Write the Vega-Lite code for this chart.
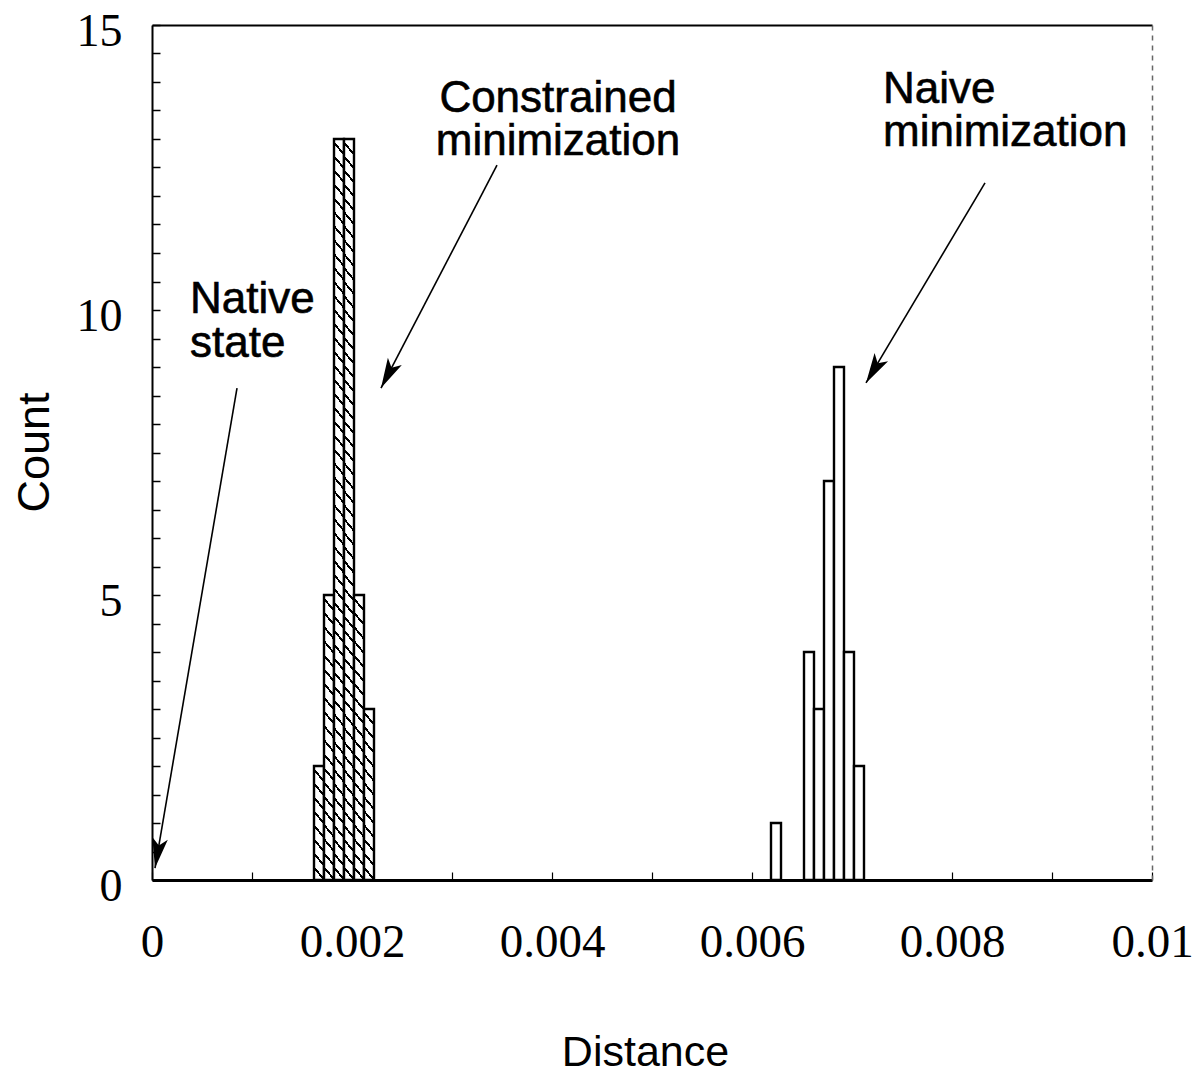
{
  "$schema": "https://vega.github.io/schema/vega-lite/v6.json",
  "width": 1000,
  "height": 855,
  "autosize": {"type": "none"},
  "padding": {"left": 152, "top": 25, "right": 42, "bottom": 201},
  "background": "white",
  "config": {"view": {"stroke": null}, "font": "Liberation Sans"},
  "resolve": {"axis": {"x": "independent", "y": "independent"}},
  "layer": [
    {
      "data": {
        "values": [
          {"method": "Constrained", "bin_start": 0.00162, "bin_end": 0.00172, "count": 2},
          {"method": "Constrained", "bin_start": 0.00172, "bin_end": 0.00182, "count": 5},
          {"method": "Constrained", "bin_start": 0.00182, "bin_end": 0.00192, "count": 13},
          {"method": "Constrained", "bin_start": 0.00192, "bin_end": 0.00202, "count": 13},
          {"method": "Constrained", "bin_start": 0.00202, "bin_end": 0.00212, "count": 5},
          {"method": "Constrained", "bin_start": 0.00212, "bin_end": 0.00222, "count": 3},
          {"method": "Naive", "bin_start": 0.00619, "bin_end": 0.00629, "count": 1},
          {"method": "Naive", "bin_start": 0.00652, "bin_end": 0.00662, "count": 4},
          {"method": "Naive", "bin_start": 0.00662, "bin_end": 0.00672, "count": 3},
          {"method": "Naive", "bin_start": 0.00672, "bin_end": 0.00682, "count": 7},
          {"method": "Naive", "bin_start": 0.00682, "bin_end": 0.00692, "count": 9},
          {"method": "Naive", "bin_start": 0.00692, "bin_end": 0.00702, "count": 4},
          {"method": "Naive", "bin_start": 0.00702, "bin_end": 0.00712, "count": 2}
        ]
      },
      "mark": {"type": "bar", "stroke": "black", "strokeWidth": 2.4},
      "encoding": {
        "x": {
          "field": "bin_start",
          "type": "quantitative",
          "scale": {"domain": [0, 0.01], "nice": false, "zero": false},
          "axis": {
            "orient": "bottom",
            "title": "Distance",
            "titleFont": "Liberation Sans",
            "titleFontSize": 43,
            "titleFontWeight": "normal",
            "titleColor": "black",
            "titleX": 493,
            "titleY": 185,
            "titleAlign": "center",
            "titleBaseline": "alphabetic",
            "titleAngle": 0,
            "values": [0, 0.001, 0.002, 0.003, 0.004, 0.005, 0.006, 0.007, 0.008, 0.009, 0.01],
            "labelExpr": "round(datum.value * 1000) % 2 === 0 ? format(datum.value, '~g') : ''",
            "labelFont": "Liberation Serif",
            "labelFontSize": 47,
            "labelColor": "black",
            "labelPadding": 47,
            "labelFlush": false,
            "labelOverlap": false,
            "labelBound": false,
            "tickSize": -8,
            "tickColor": "black",
            "tickWidth": 1.2,
            "domainColor": "black",
            "domainWidth": 3,
            "grid": false
          }
        },
        "x2": {"field": "bin_end"},
        "y": {
          "field": "count",
          "type": "quantitative",
          "scale": {"domain": [0, 15], "nice": false},
          "axis": {
            "orient": "left",
            "title": "Count",
            "titleFont": "Liberation Sans",
            "titleFontSize": 45,
            "titleFontWeight": "normal",
            "titleColor": "black",
            "titleX": -104,
            "titleY": 427,
            "titleAlign": "center",
            "titleBaseline": "alphabetic",
            "titleAngle": -90,
            "values": [0, 0.5, 1, 1.5, 2, 2.5, 3, 3.5, 4, 4.5, 5, 5.5, 6, 6.5, 7, 7.5, 8, 8.5, 9, 9.5, 10, 10.5, 11, 11.5, 12, 12.5, 13, 13.5, 14, 14.5, 15],
            "labelExpr": "datum.value % 5 === 0 ? format(datum.value, 'd') : ''",
            "labelFont": "Liberation Serif",
            "labelFontSize": 46,
            "labelColor": "black",
            "labelPadding": 38,
            "labelOffset": 6,
            "labelFlush": false,
            "labelOverlap": false,
            "labelBound": false,
            "tickSize": -8,
            "tickColor": "black",
            "tickWidth": 1.5,
            "domainColor": "black",
            "domainWidth": 2,
            "grid": false
          }
        },
        "y2": {"datum": 0},
        "fill": {
          "condition": [
            {
              "test": "datum.method === 'Constrained' && datum.count === 2",
              "value": {
                "gradient": "linear", "x1": 1, "y1": 0, "x2": 0.88493, "y2": 1.09315,
                "stops": [
                  {"offset": 0, "color": "#000"}, {"offset": 0.0238, "color": "#000"}, {"offset": 0.0238, "color": "#fff"},
                  {"offset": 0.1111, "color": "#fff"}, {"offset": 0.1111, "color": "#000"}, {"offset": 0.1349, "color": "#000"}, {"offset": 0.1349, "color": "#fff"},
                  {"offset": 0.2222, "color": "#fff"}, {"offset": 0.2222, "color": "#000"}, {"offset": 0.2460, "color": "#000"}, {"offset": 0.2460, "color": "#fff"},
                  {"offset": 0.3333, "color": "#fff"}, {"offset": 0.3333, "color": "#000"}, {"offset": 0.3571, "color": "#000"}, {"offset": 0.3571, "color": "#fff"},
                  {"offset": 0.4444, "color": "#fff"}, {"offset": 0.4444, "color": "#000"}, {"offset": 0.4682, "color": "#000"}, {"offset": 0.4682, "color": "#fff"},
                  {"offset": 0.5556, "color": "#fff"}, {"offset": 0.5556, "color": "#000"}, {"offset": 0.5794, "color": "#000"}, {"offset": 0.5794, "color": "#fff"},
                  {"offset": 0.6667, "color": "#fff"}, {"offset": 0.6667, "color": "#000"}, {"offset": 0.6905, "color": "#000"}, {"offset": 0.6905, "color": "#fff"},
                  {"offset": 0.7778, "color": "#fff"}, {"offset": 0.7778, "color": "#000"}, {"offset": 0.8016, "color": "#000"}, {"offset": 0.8016, "color": "#fff"},
                  {"offset": 0.8889, "color": "#fff"}, {"offset": 0.8889, "color": "#000"}, {"offset": 0.9127, "color": "#000"}, {"offset": 0.9127, "color": "#fff"},
                  {"offset": 1, "color": "#fff"}
                ]
              }
            },
            {
              "test": "datum.method === 'Constrained' && datum.count === 3",
              "value": {
                "gradient": "linear", "x1": 1, "y1": 0, "x2": 0.92527, "y2": 1.06493,
                "stops": [
                  {"offset": 0, "color": "#000"}, {"offset": 0.0164, "color": "#000"}, {"offset": 0.0164, "color": "#fff"},
                  {"offset": 0.0769, "color": "#fff"}, {"offset": 0.0769, "color": "#000"}, {"offset": 0.0933, "color": "#000"}, {"offset": 0.0933, "color": "#fff"},
                  {"offset": 0.1538, "color": "#fff"}, {"offset": 0.1538, "color": "#000"}, {"offset": 0.1702, "color": "#000"}, {"offset": 0.1702, "color": "#fff"},
                  {"offset": 0.2308, "color": "#fff"}, {"offset": 0.2308, "color": "#000"}, {"offset": 0.2472, "color": "#000"}, {"offset": 0.2472, "color": "#fff"},
                  {"offset": 0.3077, "color": "#fff"}, {"offset": 0.3077, "color": "#000"}, {"offset": 0.3241, "color": "#000"}, {"offset": 0.3241, "color": "#fff"},
                  {"offset": 0.3846, "color": "#fff"}, {"offset": 0.3846, "color": "#000"}, {"offset": 0.4010, "color": "#000"}, {"offset": 0.4010, "color": "#fff"},
                  {"offset": 0.4615, "color": "#fff"}, {"offset": 0.4615, "color": "#000"}, {"offset": 0.4779, "color": "#000"}, {"offset": 0.4779, "color": "#fff"},
                  {"offset": 0.5385, "color": "#fff"}, {"offset": 0.5385, "color": "#000"}, {"offset": 0.5549, "color": "#000"}, {"offset": 0.5549, "color": "#fff"},
                  {"offset": 0.6154, "color": "#fff"}, {"offset": 0.6154, "color": "#000"}, {"offset": 0.6318, "color": "#000"}, {"offset": 0.6318, "color": "#fff"},
                  {"offset": 0.6923, "color": "#fff"}, {"offset": 0.6923, "color": "#000"}, {"offset": 0.7087, "color": "#000"}, {"offset": 0.7087, "color": "#fff"},
                  {"offset": 0.7692, "color": "#fff"}, {"offset": 0.7692, "color": "#000"}, {"offset": 0.7856, "color": "#000"}, {"offset": 0.7856, "color": "#fff"},
                  {"offset": 0.8462, "color": "#fff"}, {"offset": 0.8462, "color": "#000"}, {"offset": 0.8626, "color": "#000"}, {"offset": 0.8626, "color": "#fff"},
                  {"offset": 0.9231, "color": "#fff"}, {"offset": 0.9231, "color": "#000"}, {"offset": 0.9395, "color": "#000"}, {"offset": 0.9395, "color": "#fff"},
                  {"offset": 1, "color": "#fff"}
                ]
              }
            },
            {
              "test": "datum.method === 'Constrained' && datum.count === 5",
              "value": {
                "gradient": "linear", "x1": 1, "y1": 0, "x2": 0.95620, "y2": 1.04026,
                "stops": [
                  {"offset": 0, "color": "#000"}, {"offset": 0.0101, "color": "#000"}, {"offset": 0.0101, "color": "#fff"},
                  {"offset": 0.0476, "color": "#fff"}, {"offset": 0.0476, "color": "#000"}, {"offset": 0.0577, "color": "#000"}, {"offset": 0.0577, "color": "#fff"},
                  {"offset": 0.0952, "color": "#fff"}, {"offset": 0.0952, "color": "#000"}, {"offset": 0.1053, "color": "#000"}, {"offset": 0.1053, "color": "#fff"},
                  {"offset": 0.1429, "color": "#fff"}, {"offset": 0.1429, "color": "#000"}, {"offset": 0.1530, "color": "#000"}, {"offset": 0.1530, "color": "#fff"},
                  {"offset": 0.1905, "color": "#fff"}, {"offset": 0.1905, "color": "#000"}, {"offset": 0.2006, "color": "#000"}, {"offset": 0.2006, "color": "#fff"},
                  {"offset": 0.2381, "color": "#fff"}, {"offset": 0.2381, "color": "#000"}, {"offset": 0.2482, "color": "#000"}, {"offset": 0.2482, "color": "#fff"},
                  {"offset": 0.2857, "color": "#fff"}, {"offset": 0.2857, "color": "#000"}, {"offset": 0.2958, "color": "#000"}, {"offset": 0.2958, "color": "#fff"},
                  {"offset": 0.3333, "color": "#fff"}, {"offset": 0.3333, "color": "#000"}, {"offset": 0.3434, "color": "#000"}, {"offset": 0.3434, "color": "#fff"},
                  {"offset": 0.3810, "color": "#fff"}, {"offset": 0.3810, "color": "#000"}, {"offset": 0.3911, "color": "#000"}, {"offset": 0.3911, "color": "#fff"},
                  {"offset": 0.4286, "color": "#fff"}, {"offset": 0.4286, "color": "#000"}, {"offset": 0.4387, "color": "#000"}, {"offset": 0.4387, "color": "#fff"},
                  {"offset": 0.4762, "color": "#fff"}, {"offset": 0.4762, "color": "#000"}, {"offset": 0.4863, "color": "#000"}, {"offset": 0.4863, "color": "#fff"},
                  {"offset": 0.5238, "color": "#fff"}, {"offset": 0.5238, "color": "#000"}, {"offset": 0.5339, "color": "#000"}, {"offset": 0.5339, "color": "#fff"},
                  {"offset": 0.5714, "color": "#fff"}, {"offset": 0.5714, "color": "#000"}, {"offset": 0.5815, "color": "#000"}, {"offset": 0.5815, "color": "#fff"},
                  {"offset": 0.6190, "color": "#fff"}, {"offset": 0.6190, "color": "#000"}, {"offset": 0.6291, "color": "#000"}, {"offset": 0.6291, "color": "#fff"},
                  {"offset": 0.6667, "color": "#fff"}, {"offset": 0.6667, "color": "#000"}, {"offset": 0.6768, "color": "#000"}, {"offset": 0.6768, "color": "#fff"},
                  {"offset": 0.7143, "color": "#fff"}, {"offset": 0.7143, "color": "#000"}, {"offset": 0.7244, "color": "#000"}, {"offset": 0.7244, "color": "#fff"},
                  {"offset": 0.7619, "color": "#fff"}, {"offset": 0.7619, "color": "#000"}, {"offset": 0.7720, "color": "#000"}, {"offset": 0.7720, "color": "#fff"},
                  {"offset": 0.8095, "color": "#fff"}, {"offset": 0.8095, "color": "#000"}, {"offset": 0.8196, "color": "#000"}, {"offset": 0.8196, "color": "#fff"},
                  {"offset": 0.8571, "color": "#fff"}, {"offset": 0.8571, "color": "#000"}, {"offset": 0.8672, "color": "#000"}, {"offset": 0.8672, "color": "#fff"},
                  {"offset": 0.9048, "color": "#fff"}, {"offset": 0.9048, "color": "#000"}, {"offset": 0.9149, "color": "#000"}, {"offset": 0.9149, "color": "#fff"},
                  {"offset": 0.9524, "color": "#fff"}, {"offset": 0.9524, "color": "#000"}, {"offset": 0.9625, "color": "#000"}, {"offset": 0.9625, "color": "#fff"},
                  {"offset": 1, "color": "#fff"}
                ]
              }
            },
            {
              "test": "datum.method === 'Constrained' && datum.count === 13",
              "value": {
                "gradient": "linear", "x1": 1, "y1": 0, "x2": 0.98355, "y2": 1.01593,
                "stops": [
                  {"offset": 0, "color": "#000"}, {"offset": 0.0040, "color": "#000"}, {"offset": 0.0040, "color": "#fff"},
                  {"offset": 0.0185, "color": "#fff"}, {"offset": 0.0185, "color": "#000"}, {"offset": 0.0225, "color": "#000"}, {"offset": 0.0225, "color": "#fff"},
                  {"offset": 0.0370, "color": "#fff"}, {"offset": 0.0370, "color": "#000"}, {"offset": 0.0410, "color": "#000"}, {"offset": 0.0410, "color": "#fff"},
                  {"offset": 0.0556, "color": "#fff"}, {"offset": 0.0556, "color": "#000"}, {"offset": 0.0596, "color": "#000"}, {"offset": 0.0596, "color": "#fff"},
                  {"offset": 0.0741, "color": "#fff"}, {"offset": 0.0741, "color": "#000"}, {"offset": 0.0781, "color": "#000"}, {"offset": 0.0781, "color": "#fff"},
                  {"offset": 0.0926, "color": "#fff"}, {"offset": 0.0926, "color": "#000"}, {"offset": 0.0966, "color": "#000"}, {"offset": 0.0966, "color": "#fff"},
                  {"offset": 0.1111, "color": "#fff"}, {"offset": 0.1111, "color": "#000"}, {"offset": 0.1151, "color": "#000"}, {"offset": 0.1151, "color": "#fff"},
                  {"offset": 0.1296, "color": "#fff"}, {"offset": 0.1296, "color": "#000"}, {"offset": 0.1336, "color": "#000"}, {"offset": 0.1336, "color": "#fff"},
                  {"offset": 0.1481, "color": "#fff"}, {"offset": 0.1481, "color": "#000"}, {"offset": 0.1521, "color": "#000"}, {"offset": 0.1521, "color": "#fff"},
                  {"offset": 0.1667, "color": "#fff"}, {"offset": 0.1667, "color": "#000"}, {"offset": 0.1707, "color": "#000"}, {"offset": 0.1707, "color": "#fff"},
                  {"offset": 0.1852, "color": "#fff"}, {"offset": 0.1852, "color": "#000"}, {"offset": 0.1892, "color": "#000"}, {"offset": 0.1892, "color": "#fff"},
                  {"offset": 0.2037, "color": "#fff"}, {"offset": 0.2037, "color": "#000"}, {"offset": 0.2077, "color": "#000"}, {"offset": 0.2077, "color": "#fff"},
                  {"offset": 0.2222, "color": "#fff"}, {"offset": 0.2222, "color": "#000"}, {"offset": 0.2262, "color": "#000"}, {"offset": 0.2262, "color": "#fff"},
                  {"offset": 0.2407, "color": "#fff"}, {"offset": 0.2407, "color": "#000"}, {"offset": 0.2447, "color": "#000"}, {"offset": 0.2447, "color": "#fff"},
                  {"offset": 0.2593, "color": "#fff"}, {"offset": 0.2593, "color": "#000"}, {"offset": 0.2633, "color": "#000"}, {"offset": 0.2633, "color": "#fff"},
                  {"offset": 0.2778, "color": "#fff"}, {"offset": 0.2778, "color": "#000"}, {"offset": 0.2818, "color": "#000"}, {"offset": 0.2818, "color": "#fff"},
                  {"offset": 0.2963, "color": "#fff"}, {"offset": 0.2963, "color": "#000"}, {"offset": 0.3003, "color": "#000"}, {"offset": 0.3003, "color": "#fff"},
                  {"offset": 0.3148, "color": "#fff"}, {"offset": 0.3148, "color": "#000"}, {"offset": 0.3188, "color": "#000"}, {"offset": 0.3188, "color": "#fff"},
                  {"offset": 0.3333, "color": "#fff"}, {"offset": 0.3333, "color": "#000"}, {"offset": 0.3373, "color": "#000"}, {"offset": 0.3373, "color": "#fff"},
                  {"offset": 0.3519, "color": "#fff"}, {"offset": 0.3519, "color": "#000"}, {"offset": 0.3559, "color": "#000"}, {"offset": 0.3559, "color": "#fff"},
                  {"offset": 0.3704, "color": "#fff"}, {"offset": 0.3704, "color": "#000"}, {"offset": 0.3744, "color": "#000"}, {"offset": 0.3744, "color": "#fff"},
                  {"offset": 0.3889, "color": "#fff"}, {"offset": 0.3889, "color": "#000"}, {"offset": 0.3929, "color": "#000"}, {"offset": 0.3929, "color": "#fff"},
                  {"offset": 0.4074, "color": "#fff"}, {"offset": 0.4074, "color": "#000"}, {"offset": 0.4114, "color": "#000"}, {"offset": 0.4114, "color": "#fff"},
                  {"offset": 0.4259, "color": "#fff"}, {"offset": 0.4259, "color": "#000"}, {"offset": 0.4299, "color": "#000"}, {"offset": 0.4299, "color": "#fff"},
                  {"offset": 0.4444, "color": "#fff"}, {"offset": 0.4444, "color": "#000"}, {"offset": 0.4484, "color": "#000"}, {"offset": 0.4484, "color": "#fff"},
                  {"offset": 0.4630, "color": "#fff"}, {"offset": 0.4630, "color": "#000"}, {"offset": 0.4670, "color": "#000"}, {"offset": 0.4670, "color": "#fff"},
                  {"offset": 0.4815, "color": "#fff"}, {"offset": 0.4815, "color": "#000"}, {"offset": 0.4855, "color": "#000"}, {"offset": 0.4855, "color": "#fff"},
                  {"offset": 0.5000, "color": "#fff"}, {"offset": 0.5000, "color": "#000"}, {"offset": 0.5040, "color": "#000"}, {"offset": 0.5040, "color": "#fff"},
                  {"offset": 0.5185, "color": "#fff"}, {"offset": 0.5185, "color": "#000"}, {"offset": 0.5225, "color": "#000"}, {"offset": 0.5225, "color": "#fff"},
                  {"offset": 0.5370, "color": "#fff"}, {"offset": 0.5370, "color": "#000"}, {"offset": 0.5410, "color": "#000"}, {"offset": 0.5410, "color": "#fff"},
                  {"offset": 0.5556, "color": "#fff"}, {"offset": 0.5556, "color": "#000"}, {"offset": 0.5596, "color": "#000"}, {"offset": 0.5596, "color": "#fff"},
                  {"offset": 0.5741, "color": "#fff"}, {"offset": 0.5741, "color": "#000"}, {"offset": 0.5781, "color": "#000"}, {"offset": 0.5781, "color": "#fff"},
                  {"offset": 0.5926, "color": "#fff"}, {"offset": 0.5926, "color": "#000"}, {"offset": 0.5966, "color": "#000"}, {"offset": 0.5966, "color": "#fff"},
                  {"offset": 0.6111, "color": "#fff"}, {"offset": 0.6111, "color": "#000"}, {"offset": 0.6151, "color": "#000"}, {"offset": 0.6151, "color": "#fff"},
                  {"offset": 0.6296, "color": "#fff"}, {"offset": 0.6296, "color": "#000"}, {"offset": 0.6336, "color": "#000"}, {"offset": 0.6336, "color": "#fff"},
                  {"offset": 0.6481, "color": "#fff"}, {"offset": 0.6481, "color": "#000"}, {"offset": 0.6521, "color": "#000"}, {"offset": 0.6521, "color": "#fff"},
                  {"offset": 0.6667, "color": "#fff"}, {"offset": 0.6667, "color": "#000"}, {"offset": 0.6707, "color": "#000"}, {"offset": 0.6707, "color": "#fff"},
                  {"offset": 0.6852, "color": "#fff"}, {"offset": 0.6852, "color": "#000"}, {"offset": 0.6892, "color": "#000"}, {"offset": 0.6892, "color": "#fff"},
                  {"offset": 0.7037, "color": "#fff"}, {"offset": 0.7037, "color": "#000"}, {"offset": 0.7077, "color": "#000"}, {"offset": 0.7077, "color": "#fff"},
                  {"offset": 0.7222, "color": "#fff"}, {"offset": 0.7222, "color": "#000"}, {"offset": 0.7262, "color": "#000"}, {"offset": 0.7262, "color": "#fff"},
                  {"offset": 0.7407, "color": "#fff"}, {"offset": 0.7407, "color": "#000"}, {"offset": 0.7447, "color": "#000"}, {"offset": 0.7447, "color": "#fff"},
                  {"offset": 0.7593, "color": "#fff"}, {"offset": 0.7593, "color": "#000"}, {"offset": 0.7633, "color": "#000"}, {"offset": 0.7633, "color": "#fff"},
                  {"offset": 0.7778, "color": "#fff"}, {"offset": 0.7778, "color": "#000"}, {"offset": 0.7818, "color": "#000"}, {"offset": 0.7818, "color": "#fff"},
                  {"offset": 0.7963, "color": "#fff"}, {"offset": 0.7963, "color": "#000"}, {"offset": 0.8003, "color": "#000"}, {"offset": 0.8003, "color": "#fff"},
                  {"offset": 0.8148, "color": "#fff"}, {"offset": 0.8148, "color": "#000"}, {"offset": 0.8188, "color": "#000"}, {"offset": 0.8188, "color": "#fff"},
                  {"offset": 0.8333, "color": "#fff"}, {"offset": 0.8333, "color": "#000"}, {"offset": 0.8373, "color": "#000"}, {"offset": 0.8373, "color": "#fff"},
                  {"offset": 0.8519, "color": "#fff"}, {"offset": 0.8519, "color": "#000"}, {"offset": 0.8559, "color": "#000"}, {"offset": 0.8559, "color": "#fff"},
                  {"offset": 0.8704, "color": "#fff"}, {"offset": 0.8704, "color": "#000"}, {"offset": 0.8744, "color": "#000"}, {"offset": 0.8744, "color": "#fff"},
                  {"offset": 0.8889, "color": "#fff"}, {"offset": 0.8889, "color": "#000"}, {"offset": 0.8929, "color": "#000"}, {"offset": 0.8929, "color": "#fff"},
                  {"offset": 0.9074, "color": "#fff"}, {"offset": 0.9074, "color": "#000"}, {"offset": 0.9114, "color": "#000"}, {"offset": 0.9114, "color": "#fff"},
                  {"offset": 0.9259, "color": "#fff"}, {"offset": 0.9259, "color": "#000"}, {"offset": 0.9299, "color": "#000"}, {"offset": 0.9299, "color": "#fff"},
                  {"offset": 0.9444, "color": "#fff"}, {"offset": 0.9444, "color": "#000"}, {"offset": 0.9484, "color": "#000"}, {"offset": 0.9484, "color": "#fff"},
                  {"offset": 0.9630, "color": "#fff"}, {"offset": 0.9630, "color": "#000"}, {"offset": 0.9670, "color": "#000"}, {"offset": 0.9670, "color": "#fff"},
                  {"offset": 0.9815, "color": "#fff"}, {"offset": 0.9815, "color": "#000"}, {"offset": 0.9855, "color": "#000"}, {"offset": 0.9855, "color": "#fff"},
                  {"offset": 1, "color": "#fff"}
                ]
              }
            }
          ],
          "value": "white"
        }
      }
    },
    {
      "data": {"values": [{}]},
      "mark": {"type": "point", "opacity": 0},
      "encoding": {
        "x": {"datum": 0, "type": "quantitative", "axis": {"orient": "top", "domainColor": "black", "domainWidth": 2, "ticks": false, "labels": false, "title": null, "grid": false}},
        "y": {"datum": 0, "type": "quantitative", "axis": {"orient": "right", "domainColor": "#666", "domainDash": [5, 5], "domainWidth": 1.5, "ticks": false, "labels": false, "title": null, "grid": false}}
      }
    },
    {
      "data": {"values": [{}]},
      "mark": {"type": "rule", "color": "black", "strokeWidth": 1.6},
      "encoding": {
        "x": {"datum": 0.00345, "axis": null}, "y": {"datum": 12.54, "axis": null},
        "x2": {"datum": 0.00229}, "y2": {"datum": 8.63}
      }
    },
    {
      "data": {"values": [{}]},
      "mark": {"type": "point", "shape": "M0,0L-0.55,2.1L0,1.6L0.55,2.1Z", "filled": true, "color": "black", "opacity": 1, "size": 818, "angle": 207.5, "strokeWidth": 0},
      "encoding": {"x": {"datum": 0.00229, "axis": null}, "y": {"datum": 8.63, "axis": null}}
    },
    {
      "data": {"values": [{}]},
      "mark": {"type": "rule", "color": "black", "strokeWidth": 1.6},
      "encoding": {
        "x": {"datum": 0.00833, "axis": null}, "y": {"datum": 12.23, "axis": null},
        "x2": {"datum": 0.00714}, "y2": {"datum": 8.72}
      }
    },
    {
      "data": {"values": [{}]},
      "mark": {"type": "point", "shape": "M0,0L-0.55,2.1L0,1.6L0.55,2.1Z", "filled": true, "color": "black", "opacity": 1, "size": 818, "angle": 210.7, "strokeWidth": 0},
      "encoding": {"x": {"datum": 0.00714, "axis": null}, "y": {"datum": 8.72, "axis": null}}
    },
    {
      "data": {"values": [{}]},
      "mark": {"type": "rule", "color": "black", "strokeWidth": 1.6},
      "encoding": {
        "x": {"datum": 0.00085, "axis": null}, "y": {"datum": 8.63, "axis": null},
        "x2": {"datum": 0.00003}, "y2": {"datum": 0.21}
      }
    },
    {
      "data": {"values": [{}]},
      "mark": {"type": "point", "shape": "M0,0L-0.55,2.1L0,1.6L0.55,2.1Z", "filled": true, "color": "black", "opacity": 1, "size": 818, "angle": 189.7, "strokeWidth": 0},
      "encoding": {"x": {"datum": 0.00003, "axis": null}, "y": {"datum": 0.21, "axis": null}}
    },
    {
      "data": {"values": [{}]},
      "mark": {"type": "text", "text": ["Constrained", "minimization"], "lineHeight": 43, "font": "Liberation Sans", "fontSize": 44, "align": "center", "baseline": "alphabetic", "color": "black", "stroke": "black", "strokeWidth": 0.6},
      "encoding": {"x": {"datum": 0.00406, "axis": null}, "y": {"datum": 13.47, "axis": null}}
    },
    {
      "data": {"values": [{}]},
      "mark": {"type": "text", "text": ["Naive", "minimization"], "lineHeight": 43, "font": "Liberation Sans", "fontSize": 44, "align": "left", "baseline": "alphabetic", "color": "black", "stroke": "black", "strokeWidth": 0.6},
      "encoding": {"x": {"datum": 0.00731, "axis": null}, "y": {"datum": 13.63, "axis": null}}
    },
    {
      "data": {"values": [{}]},
      "mark": {"type": "text", "text": ["Native", "state"], "lineHeight": 44, "font": "Liberation Sans", "fontSize": 44, "align": "left", "baseline": "alphabetic", "color": "black", "stroke": "black", "strokeWidth": 0.6},
      "encoding": {"x": {"datum": 0.00038, "axis": null}, "y": {"datum": 9.95, "axis": null}}
    }
  ]
}
